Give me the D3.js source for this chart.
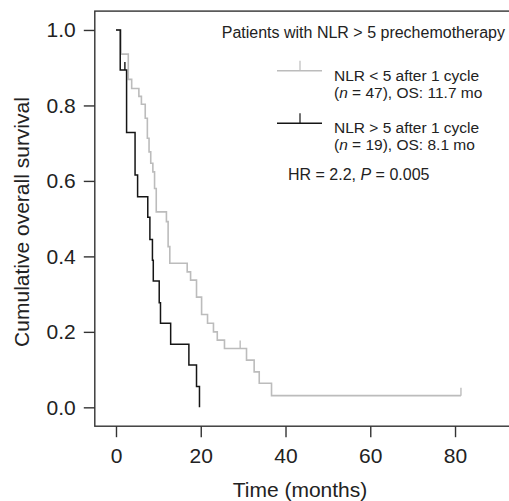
<!DOCTYPE html>
<html>
<head>
<meta charset="utf-8">
<script src="https://cdn.jsdelivr.net/npm/d3@7"></script>
<style>
  body { margin: 0; background: #fff; }
  text { font-family: "Liberation Sans", Arial, sans-serif; }
</style>
</head>
<body>
<div id="km"></div>
<script>
// Kaplan-Meier steps: [time in months, survival]
var lowNlrSteps = [[0, 1], [1.2, 0.936], [2.9, 0.869], [3.7, 0.845], [5.4, 0.824], [6.0, 0.803],
    [6.9, 0.766], [7.4, 0.713], [7.8, 0.677], [8.2, 0.647], [8.7, 0.624], [9.1, 0.580], [9.5, 0.518],
    [11.9, 0.492], [12.3, 0.426], [12.7, 0.382], [16.8, 0.359], [17.6, 0.337], [19.0, 0.292],
    [20.2, 0.246], [21.6, 0.223], [23.0, 0.200], [23.9, 0.178], [25.6, 0.156], [30.8, 0.125],
    [32.6, 0.094], [33.8, 0.064], [36.7, 0.031], [81.4, 0.031]];
var highNlrSteps = [[0, 1], [1.0, 0.894], [2.5, 0.728], [4.5, 0.616], [5.1, 0.558], [7.5, 0.504],
    [8.0, 0.445], [8.6, 0.390], [8.8, 0.335], [10.2, 0.277], [10.5, 0.223], [12.9, 0.167],
    [17.2, 0.112], [19.0, 0.055], [19.7, 0]];
// censored observations
var lowNlrCensor = [[29.3, 0.156], [81.4, 0.031]];
var highNlrCensor = [[2.1, 0.894]];

var xTicks = [0, 20, 40, 60, 80];
var yTicks = [0, 0.2, 0.4, 0.6, 0.8, 1.0];

var legendTitle = "Patients with NLR > 5 prechemotherapy";

var width = 509, height = 501;
var grey = "#bcbcbc", dark = "#151515", axisCol = "#333";

var svg = d3.select("#km").append("svg")
    .attr("width", width)
    .attr("height", height);

// scales: 0 -> 116px, 80 -> 455px ; 1.0 -> 30px, 0.0 -> 407px
var x = d3.scaleLinear().domain([-5, 95]).range([94.8, 518.6]);
var y = d3.scaleLinear().domain([-0.05, 1.05]).range([426.2, 11.1]);

// frame
svg.append("rect")
    .attr("x", x(-5)).attr("y", y(1.05))
    .attr("width", x(95) - x(-5)).attr("height", y(-0.05) - y(1.05))
    .attr("fill", "none").attr("stroke", axisCol).attr("stroke-width", 1.4);

// y axis
var yAxis = svg.append("g")
    .attr("transform", "translate(" + x(-5) + ",0)")
    .call(d3.axisLeft(y).tickValues(yTicks).tickFormat(d3.format(".1f")).tickSize(11).tickPadding(8));
yAxis.select(".domain").remove();
yAxis.selectAll("line").attr("stroke", axisCol).attr("stroke-width", 1.4);
yAxis.selectAll("text").attr("font-size", 21).attr("fill", "#222")
    .attr("font-family", "Liberation Sans, Arial, sans-serif");

// x axis
var xAxis = svg.append("g")
    .attr("transform", "translate(0," + y(-0.05) + ")")
    .call(d3.axisBottom(x).tickValues(xTicks).tickSize(11).tickPadding(11));
xAxis.select(".domain").remove();
xAxis.selectAll("line").attr("stroke", axisCol).attr("stroke-width", 1.4);
xAxis.selectAll("text").attr("font-size", 21).attr("fill", "#222")
    .attr("font-family", "Liberation Sans, Arial, sans-serif");

// axis titles
svg.append("text")
    .attr("x", 300).attr("y", 497)
    .attr("text-anchor", "middle").attr("font-size", 21).attr("fill", "#222")
    .text("Time (months)");
svg.append("text")
    .attr("transform", "translate(29,222) rotate(-90)")
    .attr("text-anchor", "middle").attr("font-size", 21).attr("fill", "#222")
    .text("Cumulative overall survival");

// curves
var line = d3.line()
    .x(function (d) { return x(d[0]); })
    .y(function (d) { return y(d[1]); })
    .curve(d3.curveStepAfter);

svg.append("path").datum(lowNlrSteps)
    .attr("d", line).attr("fill", "none")
    .attr("stroke", grey).attr("stroke-width", 1.6);
svg.append("path").datum(highNlrSteps)
    .attr("d", line).attr("fill", "none")
    .attr("stroke", dark).attr("stroke-width", 1.5);

// censor ticks (upward)
function censorTicks(data, col) {
    svg.selectAll(null).data(data).enter().append("line")
        .attr("x1", function (d) { return x(d[0]); })
        .attr("x2", function (d) { return x(d[0]); })
        .attr("y1", function (d) { return y(d[1]); })
        .attr("y2", function (d) { return y(d[1]) - 8; })
        .attr("stroke", col).attr("stroke-width", 1.4);
}
censorTicks(lowNlrCensor, grey);
censorTicks(highNlrCensor, dark);

// legend
svg.append("text")
    .attr("x", 505).attr("y", 37.5)
    .attr("text-anchor", "end").attr("font-size", 16).attr("fill", "#222")
    .text(legendTitle);

var legend = [
    { col: grey, y: 70.7, l1: "NLR < 5 after 1 cycle", n: "47", os: "11.7" },
    { col: dark, y: 123.3, l1: "NLR > 5 after 1 cycle", n: "19", os: "8.1" }
];
legend.forEach(function (d) {
    svg.append("line").attr("x1", 277).attr("x2", 322).attr("y1", d.y).attr("y2", d.y)
        .attr("stroke", d.col).attr("stroke-width", 1.4);
    svg.append("line").attr("x1", 300).attr("x2", 300).attr("y1", d.y).attr("y2", d.y - 10)
        .attr("stroke", d.col).attr("stroke-width", 1.2);
    svg.append("text").attr("x", 334).attr("y", d.y + 10)
        .attr("font-size", 15.5).attr("fill", "#222").text(d.l1);
    var t = svg.append("text").attr("x", 334).attr("y", d.y + 27)
        .attr("font-size", 15.5).attr("fill", "#222");
    t.append("tspan").text("(");
    t.append("tspan").attr("font-style", "italic").text("n");
    t.append("tspan").text(" = " + d.n + "), OS: " + d.os + " mo");
});

var hr = svg.append("text").attr("x", 288).attr("y", 180)
    .attr("font-size", 16).attr("fill", "#222");
hr.append("tspan").text("HR = 2.2, ");
hr.append("tspan").attr("font-style", "italic").text("P");
hr.append("tspan").text(" = 0.005");
</script>
</body>
</html>
